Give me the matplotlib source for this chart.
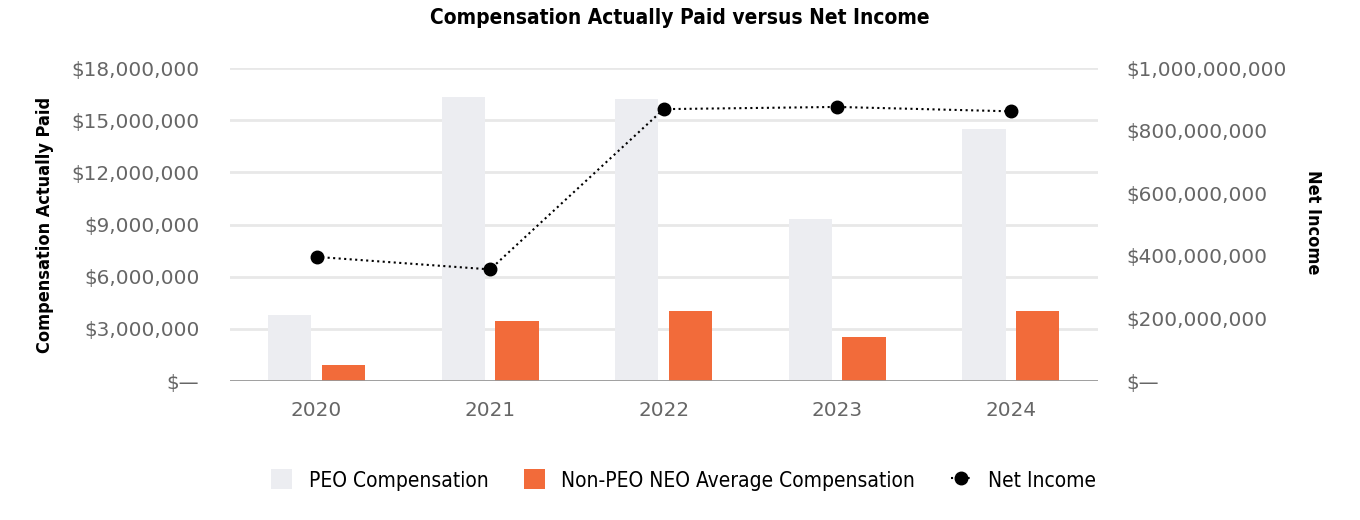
import matplotlib.pyplot as plt
import numpy as np
from matplotlib.ticker import FuncFormatter
from matplotlib.patches import Patch
from matplotlib.lines import Line2D

years = ['2020', '2021', '2022', '2023', '2024']
peo_comp = [3_800_000, 16_350_000, 16_250_000, 9_330_000, 14_500_000]
non_peo_comp = [950_000, 3_450_000, 4_050_000, 2_550_000, 4_050_000]
net_income = [397_000_000, 357_000_000, 869_000_000, 876_000_000, 862_000_000]

peo_color = '#ECEDF1'
neo_color = '#F26B3A'
tick_color = '#666666'

def money(v, pos):
    if v == 0:
        return '$\u2014'
    return '${:,.0f}'.format(v)

fig = plt.figure(figsize=(13.6, 5.2), dpi=100)
ax = fig.add_axes([0.169, 0.267, 0.638, 0.602])
ax2 = ax.twinx()

x = np.arange(len(years))
w = 0.25
ax.bar(x - 0.155, peo_comp, w, color=peo_color, zorder=2)
ax.bar(x + 0.155, non_peo_comp, w, color=neo_color, zorder=2)

ax.set_xlim(-0.5, len(years) - 0.5)
ax.set_ylim(0, 18_000_000)
ax.set_yticks(np.arange(0, 18_000_001, 3_000_000))
ax.yaxis.set_major_formatter(FuncFormatter(money))
ax.grid(axis='y', color='#e8e8e8', linewidth=2, zorder=0)
ax.set_axisbelow(True)
ax.set_xticks(x)
ax.set_xticklabels(years)

ax2.plot(x, net_income, color='black', linestyle=':', linewidth=1.5,
         marker='o', markersize=9, zorder=5)
ax2.set_ylim(0, 1_000_000_000)
ax2.set_yticks(np.arange(0, 1_000_000_001, 200_000_000))
ax2.yaxis.set_major_formatter(FuncFormatter(money))

for a in (ax, ax2):
    for s in a.spines.values():
        s.set_visible(False)
    a.tick_params(length=0, labelsize=14.4, labelcolor=tick_color)
ax.tick_params(axis='y', pad=22)
ax2.tick_params(axis='y', pad=21)
ax.tick_params(axis='x', pad=14)
ax.axhline(0, color='#999999', linewidth=2, zorder=3)

fig.text(45 / 1360, 0.567, 'Compensation Actually Paid', rotation=90,
         ha='center', va='center', fontsize=13, fontweight='bold',
         family='DejaVu Sans', stretch='condensed')
fig.text(1313 / 1360, 0.573, 'Net Income', rotation=-90,
         ha='center', va='center', fontsize=13, fontweight='bold',
         family='DejaVu Sans', stretch='condensed')
fig.text(0.5, 0.965, 'Compensation Actually Paid versus Net Income',
         ha='center', va='center', fontsize=15, fontweight='bold',
         family='DejaVu Sans', stretch='condensed')

handles = [
    Patch(facecolor=peo_color, edgecolor='none'),
    Patch(facecolor=neo_color, edgecolor='none'),
    Line2D([], [], color='black', linestyle=':', linewidth=1.5, marker='o', markersize=9),
]
labels = ['PEO Compensation', 'Non-PEO NEO Average Compensation', 'Net Income']
fig.legend(handles, labels, loc='center', bbox_to_anchor=(0.5026, 0.077), ncol=3,
           frameon=False, prop={'family': 'DejaVu Sans', 'stretch': 'condensed', 'size': 15},
           columnspacing=1.7, handlelength=1.0, handleheight=1.1, handletextpad=0.8)

fig.savefig('out.png', dpi=100)
